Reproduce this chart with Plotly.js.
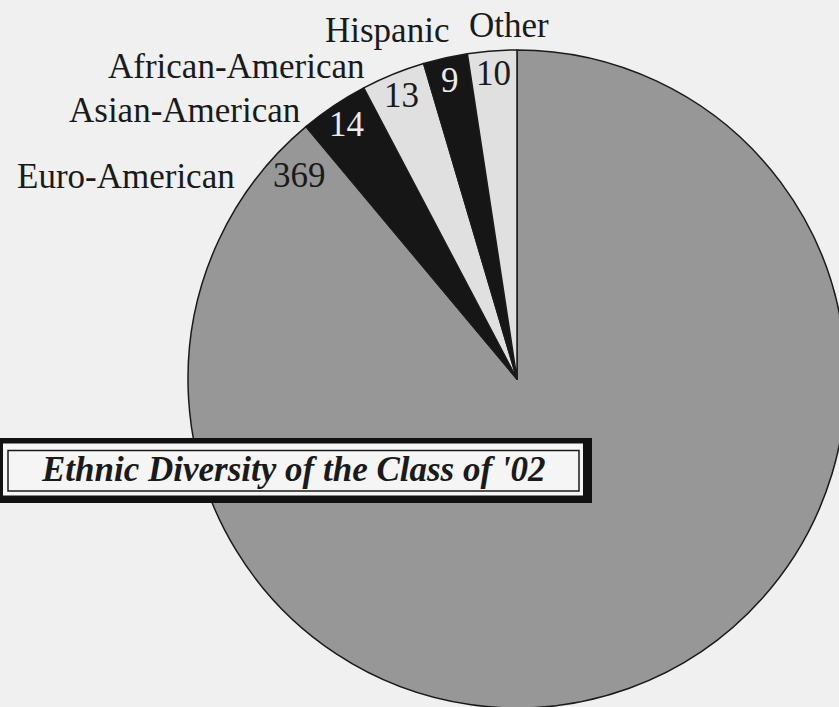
<!DOCTYPE html>
<html><head><meta charset="utf-8">
<script src="https://cdn.plot.ly/plotly-3.0.1.min.js"></script>
<style>
html,body{margin:0;padding:0;overflow:hidden;background:#f0f0f0;width:839px;height:707px}
#chart{width:860px;height:720px}
</style>
</head><body><div id="chart"></div>
<script>
// ---- data (clockwise from 12 o'clock) ----
const categories = ['Euro-American', 'Asian-American', 'African-American', 'Hispanic', 'Other'];
const counts = [369, 14, 13, 9, 10];
const chartTitle = "Ethnic Diversity of the Class of '02";

// ---- style ----
const sliceColors = ['#979797', '#161616', '#e0e0e0', '#161616', '#e0e0e0'];
const numberColors = ['#1a1a1a', '#ececec', '#1a1a1a', '#ececec', '#1a1a1a'];
const labelPos = [[126, 176], [184, 110], [236, 66], [386.5, 31], [509, 26]]; // text centres (px)

const W = 860, H = 720;
const cx = 517, cy = 379, R = 329;
const px = x => x / W, py = y => 1 - y / H;
const serif = 'Liberation Serif, Times New Roman, serif';

const total = counts.reduce((a, b) => a + b, 0);
let cum = 0;
const numAnn = counts.map((v, i) => {
  const start = cum / total * 360; cum += v;
  const end = cum / total * 360;
  let ang = (start + end) / 2, rf = 0.93;
  if (i === 0) { ang = end - 7.1; rf = 0.905; }
  const a = ang * Math.PI / 180;
  return {
    x: px(cx + R * rf * Math.sin(a)), y: py(cy - R * rf * Math.cos(a)),
    xref: 'paper', yref: 'paper', text: String(v), showarrow: false,
    xanchor: 'center', yanchor: 'middle',
    font: {family: serif, size: 35, color: numberColors[i]}
  };
});
const catAnn = categories.map((c, i) => ({
  x: px(labelPos[i][0]), y: py(labelPos[i][1]), xref: 'paper', yref: 'paper',
  text: c, showarrow: false, xanchor: 'center', yanchor: 'middle',
  font: {family: serif, size: 35, color: '#1a1a1a'}
}));
const titleAnn = {
  x: px(293), y: py(469), xref: 'paper', yref: 'paper', text: '<b><i>' + chartTitle + '</i></b>',
  showarrow: false, xanchor: 'center', yanchor: 'middle',
  font: {family: serif, size: 35, color: '#1a1a1a'}
};

const trace = {
  type: 'pie', labels: categories, values: counts, sort: false,
  direction: 'clockwise', rotation: 0,
  marker: {colors: sliceColors, line: {color: '#1a1a1a', width: 1.5}},
  textinfo: 'none', hoverinfo: 'skip', showlegend: false,
  domain: {x: [px(cx - R), px(cx + R)], y: [py(cy + R), py(cy - R)]}
};

const shapes = [
  {type: 'rect', xref: 'paper', yref: 'paper', x0: px(-10), x1: px(592), y0: py(503), y1: py(438),
   fillcolor: '#111111', line: {width: 0}},
  {type: 'rect', xref: 'paper', yref: 'paper', x0: px(3), x1: px(583), y0: py(495.5), y1: py(443.5),
   fillcolor: '#f5f5f5', line: {width: 0}},
  {type: 'rect', xref: 'paper', yref: 'paper', x0: px(8), x1: px(579), y0: py(491), y1: py(450.5),
   fillcolor: 'rgba(0,0,0,0)', line: {color: '#1a1a1a', width: 1.5}}
];

Plotly.newPlot('chart', [trace], {
  width: W, height: H, margin: {l: 0, r: 0, t: 0, b: 0},
  paper_bgcolor: '#f0f0f0', showlegend: false,
  shapes: shapes, annotations: [...catAnn, ...numAnn, titleAnn]
}, {staticPlot: true, displayModeBar: false});
</script>
</body></html>
